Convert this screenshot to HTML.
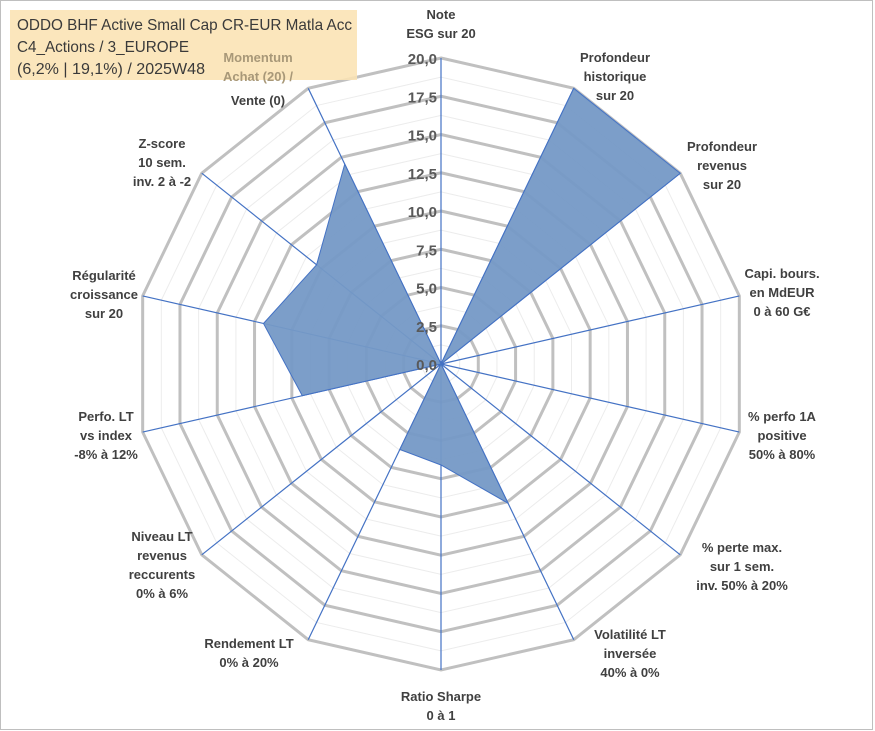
<!DOCTYPE html>
<html><head><meta charset="utf-8"><style>
body{margin:0;background:#fff}
svg{display:block;font-family:"Liberation Sans",Arial,sans-serif}
.lb{font-size:13px;font-weight:bold;fill:#404040;text-anchor:middle}
.tk{font-size:15px;font-weight:bold;fill:#595959;text-anchor:end}
</style></head><body>
<svg width="875" height="731">
<rect x="0.5" y="0.5" width="872" height="729" fill="#fff" stroke="#bfbfbf"/>
<g id="grid"></g><g id="axes"></g><g id="series"></g><g id="ticks"></g><g id="labels"></g>
<rect x="10" y="10" width="347" height="70" fill="#fbe3b3" opacity="0.88"/>
<g font-size="16" fill="#3a3a3a">
<text x="17" y="30" textLength="335" lengthAdjust="spacingAndGlyphs">ODDO BHF Active Small Cap CR-EUR Matla Acc</text>
<text x="17" y="52" textLength="172" lengthAdjust="spacingAndGlyphs">C4_Actions / 3_EUROPE</text>
<text x="17" y="74" textLength="188" lengthAdjust="spacingAndGlyphs">(6,2% | 19,1%) / 2025W48</text>
</g>
<g font-size="13" font-weight="bold" text-anchor="middle" fill="#a89878">
<text x="258" y="62">Momentum</text><text x="258" y="81">Achat (20) /</text></g>
</svg>
<script>
const categories=[["Note","ESG sur 20"],["Profondeur","historique","sur 20"],["Profondeur","revenus","sur 20"],["Capi. bours.","en MdEUR","0 à 60 G€"],["% perfo 1A","positive","50% à 80%"],["% perte max.","sur 1 sem.","inv. 50% à 20%"],["Volatilité LT","inversée","40% à 0%"],["Ratio Sharpe","0 à 1"],["Rendement LT","0% à 20%"],["Niveau LT","revenus","reccurents","0% à 6%"],["Perfo. LT","vs index","-8% à 12%"],["Régularité","croissance","sur 20"],["Z-score","10 sem.","inv. 2 à -2"],["","","Vente (0)"]];
const values=[0,20,20,0,0,0,10.1,6.6,6.2,0,9.3,11.9,10.4,14.5];
const tickLabels=["0,0","2,5","5,0","7,5","10,0","12,5","15,0","17,5","20,0"];
const labelPos=[[441,14],[615,57],[722,146],[782,273],[782,416],[742,547],[630,634],[441,696],[249,643],[162,536],[106,416],[104,275],[162,143],[258,62]];
const NS="http://www.w3.org/2000/svg";
const cx=441,cy=364,R=306,maxV=20,N=categories.length;
function pt(i,v){const a=i*2*Math.PI/N;const r=v/maxV*R;return [cx+r*Math.sin(a),cy-r*Math.cos(a)];}
function mk(t,attrs,parent){const e=document.createElementNS(NS,t);for(const k in attrs)e.setAttribute(k,attrs[k]);document.getElementById(parent).appendChild(e);return e;}
for(let s=1;s<=16;s++){const v=s*1.25;const pts=[];for(let i=0;i<N;i++)pts.push(pt(i,v).join(","));
 const major=s%2===0;
 const e=mk("polygon",{points:pts.join(" "),fill:"none",stroke:major?"#c0c0c0":"#ececec","stroke-width":major?3:1},"grid");
 
 }
for(let i=0;i<N;i++){const p=pt(i,maxV);
 const e=mk("line",{x1:cx,y1:cy,x2:p[0],y2:p[1],stroke:"#4472c4","stroke-width":1.2},"axes");
 
 }
const sp=values.map((v,i)=>pt(i,v).join(",")).join(" ");
const poly=mk("polygon",{points:sp,fill:"#7599c6","fill-opacity":0.95,stroke:"#4472c4","stroke-width":1},"series");


tickLabels.forEach((t,k)=>{const v=k*2.5;const p=pt(0,v);
 const e=mk("text",{x:p[0]-4,y:p[1]+6,class:"tk"},"ticks");e.textContent=t;
 
 });
categories.forEach((lines,i)=>{const [x,y]=labelPos[i];
 const e=mk("text",{x:x,y:y+5,class:"lb"},"labels");
 
 
 lines.forEach((l,j)=>{const ts=document.createElementNS(NS,"tspan");ts.setAttribute("x",x);ts.setAttribute("y",y+5+j*19);ts.textContent=l;e.appendChild(ts);});});
</script>
</body></html>
